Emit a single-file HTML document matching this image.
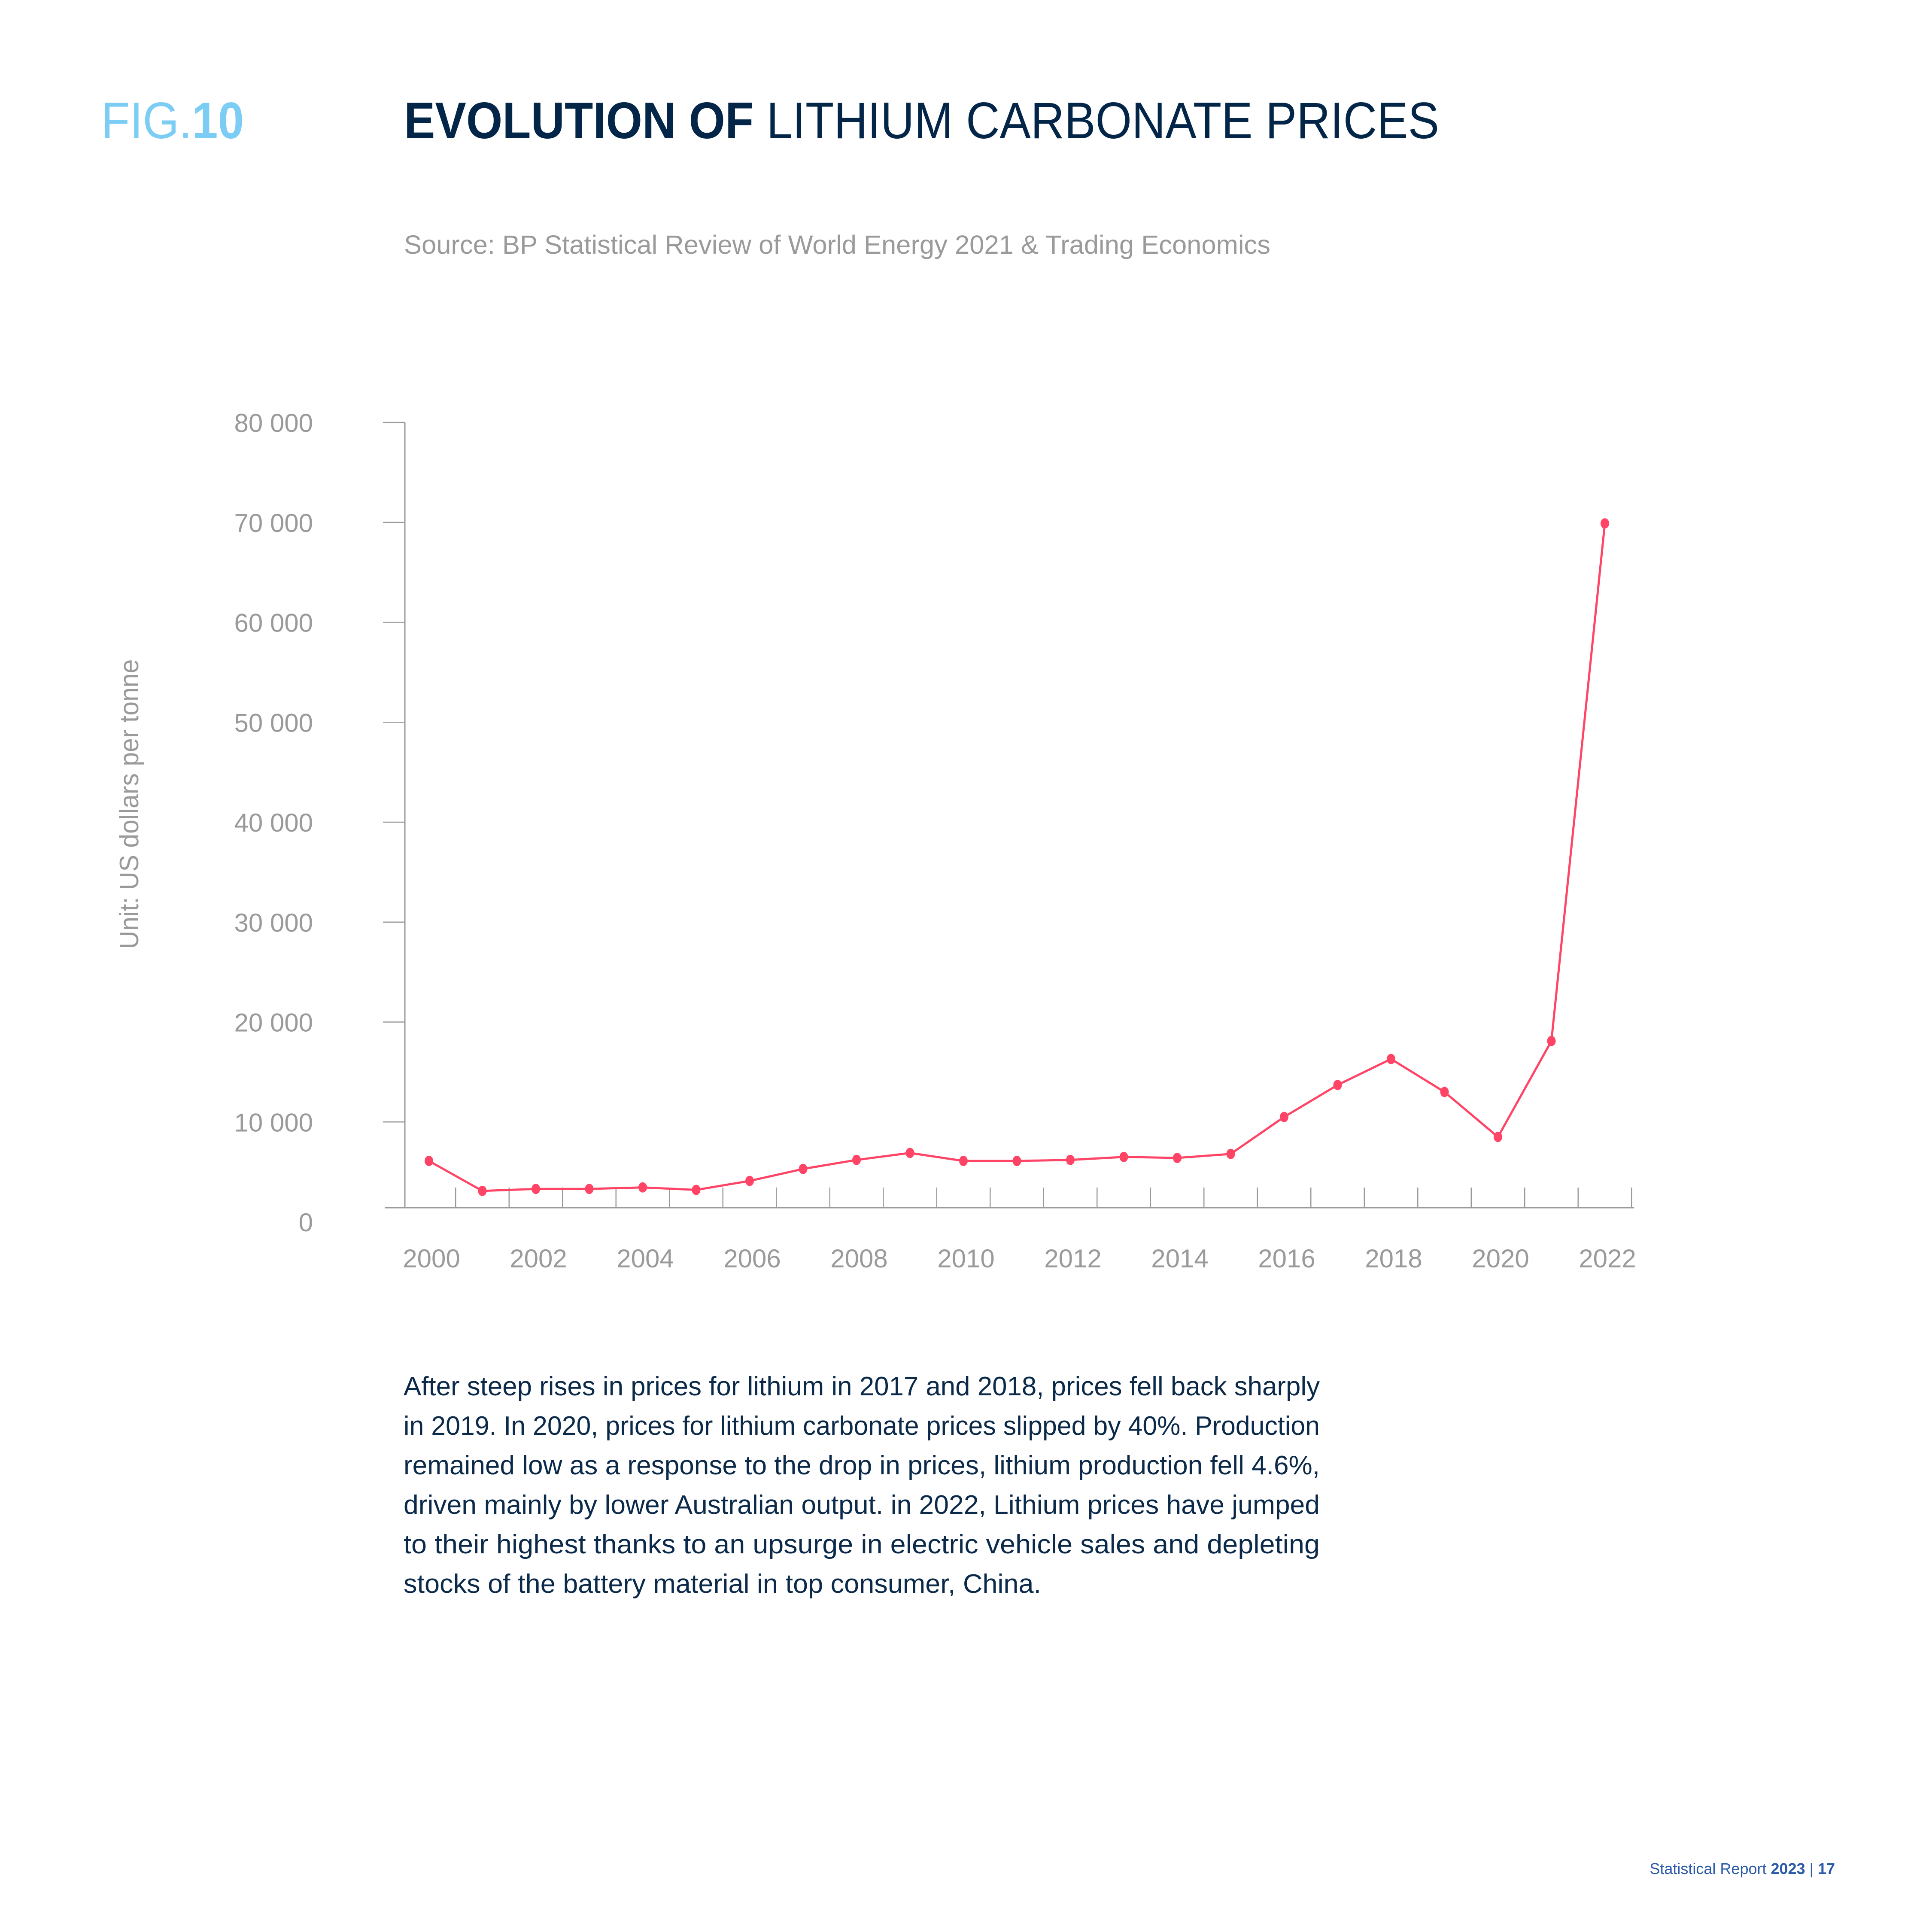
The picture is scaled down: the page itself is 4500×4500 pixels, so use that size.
<!DOCTYPE html>
<html><head><meta charset="utf-8"><style>
html,body{margin:0;padding:0;background:#fff}
svg{display:block}
text{font-family:"Liberation Sans",sans-serif}
</style></head><body>
<svg width="4500" height="4500" viewBox="0 0 4500 4500" xmlns="http://www.w3.org/2000/svg">
<text x="236" y="322" font-size="120" fill="#7ccdf4" textLength="332" lengthAdjust="spacingAndGlyphs">FIG.<tspan font-weight="bold">10</tspan></text>
<text x="941" y="322" font-size="120" fill="#022548" textLength="2411" lengthAdjust="spacingAndGlyphs"><tspan font-weight="bold">EVOLUTION OF</tspan> LITHIUM CARBONATE PRICES</text>
<text x="941" y="591" font-size="61" fill="#9a9a9a" textLength="2018" lengthAdjust="spacingAndGlyphs">Source:  BP Statistical Review of World Energy 2021 &amp; Trading Economics</text>
<text transform="translate(322,1873) rotate(-90)" text-anchor="middle" font-size="62" fill="#9a9a9a" textLength="675" lengthAdjust="spacingAndGlyphs">Unit: US dollars per tonne</text>
<g id="chart"></g>
<g font-size="62" fill="#0b2a4a">
<text x="940" y="3250" textLength="2134" lengthAdjust="spacingAndGlyphs">After steep rises in prices for lithium in 2017 and 2018, prices fell back sharply</text>
<text x="940" y="3342" textLength="2134" lengthAdjust="spacingAndGlyphs">in 2019. In 2020, prices for lithium carbonate prices slipped by 40%. Production</text>
<text x="940" y="3434" textLength="2134" lengthAdjust="spacingAndGlyphs">remained low as a response to the drop in prices, lithium production fell 4.6%,</text>
<text x="940" y="3526" textLength="2134" lengthAdjust="spacingAndGlyphs">driven mainly by lower Australian output. in 2022, Lithium prices have jumped</text>
<text x="940" y="3618" textLength="2134" lengthAdjust="spacingAndGlyphs">to their highest thanks to an upsurge in electric vehicle sales and depleting</text>
<text x="940" y="3710" textLength="1485" lengthAdjust="spacingAndGlyphs">stocks of the battery material in top consumer, China.</text>
</g>
<text x="4274" y="4365" text-anchor="end" font-size="36" fill="#2b5aa8">Statistical Report <tspan font-weight="bold">2023</tspan> | <tspan font-weight="bold">17</tspan></text>
</svg>
<script>
const years = [2000,2001,2002,2003,2004,2005,2006,2007,2008,2009,2010,2011,2012,2013,2014,2015,2016,2017,2018,2019,2020,2021,2022];
const prices = [6100,3100,3300,3300,3450,3200,4100,5300,6200,6900,6100,6100,6200,6500,6400,6800,10500,13700,16300,13000,8500,18100,69900];
const yTicks = [0,10000,20000,30000,40000,50000,60000,70000,80000];
const yTickLabels = ["0","10 000","20 000","30 000","40 000","50 000","60 000","70 000","80 000"];
const xLabelYears = [2000,2002,2004,2006,2008,2010,2012,2014,2016,2018,2020,2022];

const NS="http://www.w3.org/2000/svg";
const g=document.getElementById('chart');
const x0=999, step=124.5, yZero=2846, yTop=984, vMax=80000;
const xs=i=>x0+i*step;
const ys=v=>yZero-(v/vMax)*(yZero-yTop);
function mk(tag,attrs){const e=document.createElementNS(NS,tag);for(const k in attrs)e.setAttribute(k,attrs[k]);g.appendChild(e);return e;}
const axisY=2813, axisX=943;
// y axis
let ya=mk('line',{x1:axisX,y1:yTop,x2:axisX,y2:axisY,stroke:'#9a9a9a','stroke-width':3});


let xa=mk('line',{x1:896,y1:axisY,x2:3806,y2:axisY,stroke:'#9a9a9a','stroke-width':3});


yTicks.forEach((v,i)=>{
  const y=ys(v);
  if(v>0){
    const t=mk('line',{x1:892,y1:y,x2:axisX,y2:y,stroke:'#9a9a9a','stroke-width':2.5});
    
    
  }
  const l=mk('text',{x:729,y:y+22,'text-anchor':'end','font-size':60,fill:'#9a9a9a'});
  l.textContent=yTickLabels[i];
  
  
});
for(let i=1;i<=years.length;i++){
  const x=xs(i)-step/2;
  const t=mk('line',{x1:x,y1:2766,x2:x,y2:axisY,stroke:'#9a9a9a','stroke-width':2.5});
  
  
}
xLabelYears.forEach(yr=>{
  const i=years.indexOf(yr);
  const l=mk('text',{x:xs(i)+6,y:2952,'text-anchor':'middle','font-size':60,fill:'#9a9a9a'});
  l.textContent=String(yr);
  
  
});
const pts=prices.map((v,i)=>xs(i)+','+ys(v)).join(' ');
const pl=mk('polyline',{points:pts,fill:'none',stroke:'#ff4466','stroke-width':5,'stroke-linejoin':'round'});


prices.forEach((v,i)=>{
  const c=mk('ellipse',{cx:xs(i),cy:ys(v),rx:10,ry:12,fill:'#ff4466'});
  
  
});
</script>
</body></html>
